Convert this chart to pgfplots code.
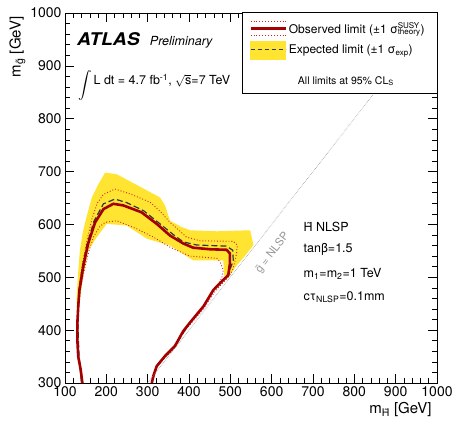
\documentclass[border=0pt]{standalone}
\usepackage{pgfplots}
\pgfplotsset{compat=1.18}
\usepackage{fontspec}
\setmainfont{TeX Gyre Heros}
\definecolor{obsred}{RGB}{165,0,0}
\definecolor{thred}{RGB}{210,30,30}
\definecolor{bandyellow}{RGB}{255,228,50}
\definecolor{expgray}{RGB}{45,55,65}
\definecolor{diaggray}{RGB}{150,150,150}
\begin{document}
\begin{tikzpicture}
\begin{axis}[
  name=ax,
  scale only axis, width=372pt, height=370pt,
  xmin=100, xmax=1000, ymin=300, ymax=1000,
  xtick={100,200,...,1000}, ytick={300,400,...,1000},
  minor x tick num=4, minor y tick num=4,
  tick align=inside, major tick length=9pt, minor tick length=5pt,
  every tick/.style={black, line width=0.6pt},
  axis line style={line width=0.8pt},
  /pgf/number format/assume math mode=true,
  /pgf/number format/1000 sep={},
  tick label style={font=\fontsize{14}{16}\selectfont},
  xlabel={m\textsubscript{\~{H}} [GeV]},
  ylabel={m\textsubscript{\~{g}} [GeV]},
  every axis x label/.style={at={(rel axis cs:0.995,0)}, anchor=north east, yshift=-16pt, font=\fontsize{15}{17}\selectfont},
  every axis y label/.style={at={(rel axis cs:-0.128,1.0)}, anchor=east, rotate=90, font=\fontsize{15}{17}\selectfont},
  legend style={draw=none, fill=none, at={(rel axis cs:0.49,0.985)}, anchor=north west,
    font=\fontsize{12}{14}\selectfont, row sep=4pt, inner sep=2pt},
  legend cell align=left,
  clip=false,
]
% expected band
\addplot[fill=bandyellow, draw=none, forget plot] coordinates {
(130,430) (128,458) (131,500) (136,551) (143,585) (152,614) (165,651) (180,675) (197,698) (225,695)
(280,672) (330,651) (342,636) (354,607) (380,596) (402,589) (467,587) (548,589) (556,561)
(536,541) (516,523) (499,504) (490,495) (485,505) (483,532) (410,532) (354,560) (298,573)
(249,598) (201,601) (177,576) (156,551) (144,501) (136,458) (132,430)} -- cycle;
% theory -1 sigma
\addplot[thred, dotted, line width=0.9pt, forget plot] coordinates {
(143,300) (139,325) (133,350) (131,380) (131,414) (133,445) (137,476) (147,515) (158,550)
(169,576) (183,595) (197,604) (225,607) (273,592) (314,576) (354,557) (402,540) (467,536)
(475,529) (483,514) (479,498) (470,487) (459,476) (435,445) (402,414) (386,398) (366,370)
(342,351) (322,332) (314,314) (310,300)};
% theory +1 sigma
\addplot[thred, dotted, line width=0.9pt, forget plot] coordinates {
(141,300) (137,325) (131,350) (129,380) (129,414) (131,445) (134,480) (142,525) (152,565)
(165,610) (178,640) (193,657) (221,667) (260,657) (306,642) (330,625) (354,604) (394,576)
(427,569) (507,568) (517,561) (515,545) (511,530) (505,512) (495,500) (480,488) (460,470)
(435,440) (402,410) (386,395) (366,367) (342,348) (322,330) (313,314) (309,300)};
% expected
\addplot[expgray, dashed, dash pattern=on 6pt off 3pt, line width=1.2pt, forget plot] coordinates {
(140,300) (134,350) (131,414) (134,476) (142,520) (154,564) (170,606) (193,639) (221,648)
(250,641) (290,626) (330,601) (360,582) (386,567) (419,561) (491,559) (506,551) (507,532)
(499,514) (490,500) (470,485) (459,476) (435,445) (402,414) (366,370) (322,332) (310,300)};
% observed
\addplot[obsred, line width=2.6pt, forget plot] coordinates {
(142,300) (138,325) (132,350) (130,380) (130,414) (132,445) (135,476) (144,520) (156,564)
(173,604) (193,629) (217,639) (241,636) (285,623) (322,601) (354,579) (386,564) (410,556)
(451,553) (491,552) (499,545) (499,526) (495,504) (483,495) (459,476) (435,445) (402,414)
(386,398) (366,370) (342,351) (322,332) (314,314) (310,300)};
% diagonal gluino = NLSP
\addplot[diaggray, densely dotted, line width=0.6pt, forget plot] coordinates {(300,300) (845,845)};
\node[diaggray, rotate=52, font=\fontsize{11}{13}\selectfont] at (axis cs:602,546) {\~{g} = NLSP};

% texts
\node[anchor=base west, inner sep=0pt, font=\fontsize{17.5}{20}\selectfont\bfseries\itshape] at (axis cs:129,939) {\scalebox{1.1}[1]{ATLAS}};
\node[anchor=base west, inner sep=0pt, font=\fontsize{12.5}{14}\selectfont\itshape] at (axis cs:305,939) {Preliminary};
\node[anchor=base west, inner sep=0pt, font=\fontsize{12.5}{14}\selectfont] at (axis cs:131,864) {\raisebox{-0.35em}{\scalebox{1.35}{$\displaystyle\int$}}\,L dt = 4.7 fb\textsuperscript{-1}, $\sqrt{\hbox{s}}$=7 TeV};

\node[anchor=base west, font=\fontsize{12.5}{14}\selectfont] at (axis cs:669,587) {\~{H} NLSP};
\node[anchor=base west, font=\fontsize{12.5}{14}\selectfont] at (axis cs:669,546) {tanβ=1.5};
\node[anchor=base west, font=\fontsize{12.5}{14}\selectfont] at (axis cs:669,500) {m\textsubscript{1}=m\textsubscript{2}=1 TeV};
\node[anchor=base west, font=\fontsize{12.5}{14}\selectfont] at (axis cs:669,457) {cτ\textsubscript{NLSP}=0.1mm};

% legend frame
\fill[gray!70] (rel axis cs:0.480,0.998) rectangle (rel axis cs:1.004,0.780);
\draw[fill=white, line width=0.6pt] (rel axis cs:0.476,1.003) rectangle (rel axis cs:1.0,0.784);
\node[anchor=base, font=\fontsize{10.5}{12}\selectfont] at (rel axis cs:0.755,0.808) {All limits at 95\% CL\textsubscript{S}};

\addlegendimage{legend image code/.code={
  \draw[thred, dotted, line width=0.9pt] (0pt,7pt) -- (35pt,7pt);
  \draw[thred, dotted, line width=0.9pt] (0pt,-7pt) -- (35pt,-7pt);
  \draw[obsred, line width=2.4pt] (0pt,0pt) -- (35pt,0pt);
}}
\addlegendentry{Observed limit (±1 σ\rlap{\textsuperscript{SUSY}}\textsubscript{theory})}
\addlegendimage{legend image code/.code={
  \fill[bandyellow] (0pt,-9pt) rectangle (35pt,9pt);
  \draw[expgray, dashed, dash pattern=on 4pt off 3pt, line width=1.1pt] (0pt,0pt) -- (35pt,0pt);
}}
\addlegendentry{Expected limit (±1 σ\textsubscript{exp})}
\end{axis}
\pgfresetboundingbox
\path ([xshift=-65pt,yshift=-42pt]ax.south west) rectangle ([xshift=20pt,yshift=13pt]ax.north east);
\end{tikzpicture}
\end{document}
